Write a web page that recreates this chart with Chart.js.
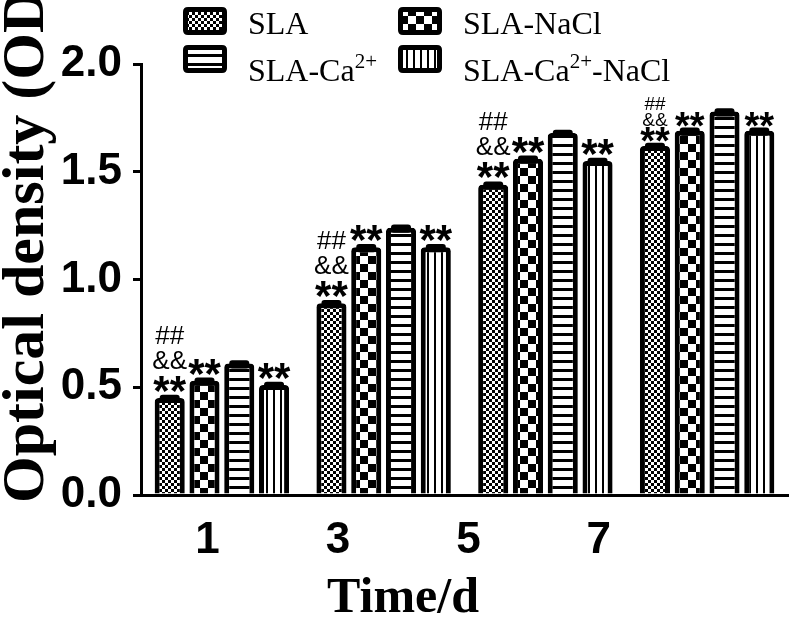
<!DOCTYPE html>
<html>
<head>
<meta charset="utf-8">
<script src="https://cdn.jsdelivr.net/npm/chart.js@4"></script>
<style>
  html, body { margin: 0; padding: 0; background: #fff; }
</style>
</head>
<body>
<canvas id="myChart" width="793" height="624"></canvas>
<script>
// data
var days = ['1', '3', '5', '7'];
var dayTicks = [1, 3, 5, 7];
var yTicks = [0, 0.5, 1.0, 1.5, 2.0];
var seriesNames = ['SLA', 'SLA-NaCl', 'SLA-Ca<sup>2+</sup>', 'SLA-Ca<sup>2+</sup>-NaCl'];

var slaValues = [0.45, 0.89, 1.44, 1.62];
var naclValues = [0.53, 1.15, 1.56, 1.69];
var caValues = [0.61, 1.24, 1.68, 1.78];
var caNaclValues = [0.51, 1.15, 1.55, 1.69];

var slaErr = [0.015, 0.015, 0.015, 0.015];
var naclErr = [0.015, 0.015, 0.015, 0.015];
var caErr = [0.015, 0.015, 0.015, 0.015];
var caNaclErr = [0.015, 0.015, 0.015, 0.015];

var slaMarks = [['**', '&&', '##'], ['**', '&&', '##'], ['**', '&&', '##'], ['**', '&&', '##']];
var naclMarks = [['**'], ['**'], ['**'], ['**']];
var caMarks = [[], [], [], []];
var caNaclMarks = [['**'], ['**'], ['**'], ['**']];

var canvas = document.getElementById('myChart');
var mainCtx = canvas.getContext('2d');

function makePattern(w, h, draw) {
    var c = document.createElement('canvas');
    c.width = w;
    c.height = h;
    var g = c.getContext('2d');
    g.fillStyle = '#fff';
    g.fillRect(0, 0, w, h);
    g.fillStyle = '#000';
    draw(g);
    return mainCtx.createPattern(c, 'repeat');
}

var fineChecker = makePattern(6, 6, function (g) { g.fillRect(0, 0, 3, 3); g.fillRect(3, 3, 3, 3); });
var bigChecker = makePattern(16, 16, function (g) { g.fillRect(0, 0, 8, 8); g.fillRect(8, 8, 8, 8); });
var hLines = makePattern(8, 9, function (g) { g.fillRect(0, 0, 8, 3); });
var vLines = makePattern(7, 8, function (g) { g.fillRect(0, 0, 2, 8); });

function roundRect(ctx, x, y, w, h, r) {
    ctx.beginPath();
    ctx.moveTo(x + r, y);
    ctx.lineTo(x + w - r, y);
    ctx.quadraticCurveTo(x + w, y, x + w, y + r);
    ctx.lineTo(x + w, y + h - r);
    ctx.quadraticCurveTo(x + w, y + h, x + w - r, y + h);
    ctx.lineTo(x + r, y + h);
    ctx.quadraticCurveTo(x, y + h, x, y + h - r);
    ctx.lineTo(x, y + r);
    ctx.quadraticCurveTo(x, y, x + r, y);
    ctx.closePath();
}

// text with <sup> parts
function richText(ctx, str, x, y, size, family) {
    var parts = str.split(/(<sup>.*?<\/sup>)/).filter(function (p) { return p; });
    parts.forEach(function (p) {
        var sup = p.indexOf('<sup>') === 0;
        var t = p.replace(/<\/?sup>/g, '');
        ctx.font = (sup ? Math.round(size * 0.66) : size) + 'px ' + family;
        ctx.fillText(t, x, sup ? y - size * 0.42 : y);
        x += ctx.measureText(t).width;
    });
}

var errorsAndMarks = {
    id: 'errorsAndMarks',
    afterDatasetsDraw: function (chart) {
        var ctx = chart.ctx;
        var y = chart.scales.y;
        ctx.save();
        ctx.fillStyle = '#000';
        ctx.textAlign = 'center';
        ctx.textBaseline = 'alphabetic';
        chart.data.datasets.forEach(function (ds, i) {
            chart.getDatasetMeta(i).data.forEach(function (bar, j) {
                var top = y.getPixelForValue(ds.data[j] + ds.errors[j]);
                roundRect(ctx, bar.x - 10, top, 20, bar.y - top + 5, 3);
                ctx.fill();
                var tight = j === days.length - 1;
                var offs = tight ? [-6, -17, -33] : [-8, -26, -51];
                ds.marks[j].forEach(function (m, k) {
                    if (m === '**') {
                        ctx.font = 'bold ' + (tight ? 38 : 42) + 'px "Liberation Sans"';
                        ctx.fillText(m, bar.x, top + offs[k] + (tight ? 17 : 18));
                    } else {
                        ctx.font = (tight ? 19 : 26) + 'px "Liberation Sans"';
                        ctx.fillText(m, bar.x, top + offs[k]);
                    }
                });
            });
        });
        ctx.restore();
    }
};

var titlesAndLegend = {
    id: 'titlesAndLegend',
    afterDraw: function (chart) {
        var ctx = chart.ctx;
        ctx.save();
        ctx.fillStyle = '#000';
        // axis titles
        ctx.textBaseline = 'alphabetic';
        ctx.font = 'bold 60px "Liberation Serif"';
        ctx.save();
        ctx.translate(43, 503);
        ctx.rotate(-Math.PI / 2);
        ctx.textAlign = 'left';
        ctx.fillText('Optical density (OD)', 0, 0);
        ctx.restore();
        ctx.textAlign = 'center';
        ctx.font = 'bold 50px "Liberation Serif"';
        ctx.fillText('Time/d', 403, 612);

        // legend, two columns
        var colX = [183, 398];
        var rowY = [7, 45];
        var textY = [34, 81];
        ctx.textAlign = 'left';
        chart.data.datasets.forEach(function (ds, i) {
            var bx = colX[i % 2], by = rowY[Math.floor(i / 2)];
            ctx.fillStyle = '#000';
            roundRect(ctx, bx, by, 44, 28, 5);
            ctx.fill();
            ctx.fillStyle = ds.backgroundColor;
            ctx.fillRect(bx + 5, by + 5, 34, 18);
            ctx.fillStyle = '#000';
            richText(ctx, ds.label, bx + 65, textY[Math.floor(i / 2)], 32, '"Liberation Serif"');
        });
        ctx.restore();
    }
};

function series(name, values, errs, marks, fill) {
    return {
        label: name,
        data: values,
        errors: errs,
        marks: marks,
        backgroundColor: fill,
        borderColor: '#000',
        borderWidth: 5,
        borderRadius: { topLeft: 4, topRight: 4 },
        categoryPercentage: 0.86,
        barPercentage: 0.865
    };
}

new Chart(canvas, {
    type: 'bar',
    data: {
        labels: days,
        datasets: [
            series(seriesNames[0], slaValues, slaErr, slaMarks, fineChecker),
            series(seriesNames[1], naclValues, naclErr, naclMarks, bigChecker),
            series(seriesNames[2], caValues, caErr, caMarks, hLines),
            series(seriesNames[3], caNaclValues, caNaclErr, caNaclMarks, vLines)
        ]
    },
    plugins: [errorsAndMarks, titlesAndLegend],
    options: {
        responsive: false,
        animation: false,
        devicePixelRatio: 1,
        layout: { padding: { top: 64, right: 5, bottom: 0, left: 0 } },
        plugins: { legend: { display: false }, tooltip: { enabled: false } },
        scales: {
            x: { display: false },
            xl: {
                type: 'linear',
                position: 'bottom',
                offset: false,
                min: -0.02,
                max: 9.9,
                afterBuildTicks: function (s) { s.ticks = dayTicks.map(function (v) { return { value: v }; }); },
                afterFit: function (s) { s.height = 129; },
                grid: { display: true, offset: false, drawOnChartArea: false, drawTicks: false },
                border: { display: true, color: '#000', width: 3 },
                ticks: {
                    color: '#000',
                    padding: 19,
                    maxRotation: 0,
                    autoSkip: false,
                    font: { family: '"Liberation Sans"', size: 44, weight: 'bold' },
                    callback: function (v) { return days[dayTicks.indexOf(v)]; }
                }
            },
            y: {
                min: 0,
                max: 2,
                afterBuildTicks: function (s) { s.ticks = yTicks.map(function (v) { return { value: v }; }); },
                afterFit: function (s) { s.width = 141; },
                grid: { display: true, drawOnChartArea: false, drawTicks: true, tickLength: 8, lineWidth: 3, color: '#000' },
                border: { display: true, color: '#000', width: 3 },
                ticks: {
                    color: '#000',
                    padding: 11,
                    font: { family: '"Liberation Sans"', size: 44, weight: 'bold' },
                    callback: function (v) { return v.toFixed(1); }
                }
            }
        }
    }
});
</script>
</body>
</html>
